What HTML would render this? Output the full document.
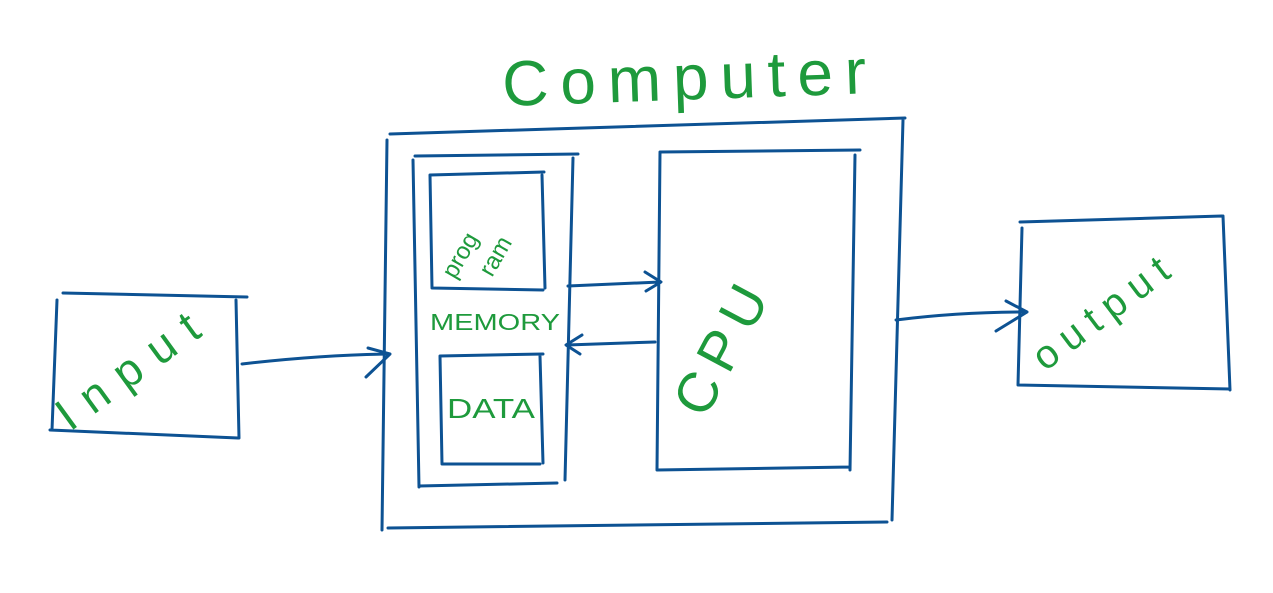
<!DOCTYPE html>
<html><head><meta charset="utf-8"><style>
html,body{margin:0;padding:0;background:#fff;width:1273px;height:593px;overflow:hidden}
svg{display:block}
text{font-family:"Liberation Sans",sans-serif;fill:#1e9a3c}
</style></head><body>
<svg width="1273" height="593" viewBox="0 0 1273 593">
<g fill="none" stroke="#0d5293" stroke-width="3" stroke-linecap="round" stroke-linejoin="round">
<path d="M63 293 L247 297 M57 300 L52 430 M50 430 L238 438 M236 300 L239 438"/>
<path d="M242 364 Q320 355 390 354 M368 348 L390 354 L366 377"/>
<path d="M390 134 L905 118 M387 140 L382 530 M388 528 L887 522 M903 120 L892 520"/>
<path d="M415 156 L578 154 M413 160 L419 487 M419 486 L557 483 M573 158 L565 480"/>
<path d="M430 175 L544 172 M430 175 L432 288 M432 288 L543 290 M542 175 L545 288"/>
<path d="M440 356 L543 354 M440 356 L442 464 M442 464 L540 464 M540 356 L543 463"/>
<path d="M660 152 L860 150 M660 152 L657 470 M657 470 L850 467 M855 155 L850 470"/>
<path d="M568 286 L660 282 M645 272 L661 282 L646 291"/>
<path d="M655 342 L567 345 M582 335 L566 345 L580 354"/>
<path d="M1020 222 L1222 216 M1022 228 L1018 385 M1018 385 L1230 389 M1223 216 L1230 390"/>
<path d="M896 320 Q960 312 1027 312 M1006 301 L1027 312 L996 331"/>
</g>
<text x="503" y="106" font-size="64" font-weight="300" letter-spacing="11" transform="rotate(-2 503 106)" textLength="375" lengthAdjust="spacing">Computer</text>
<text x="430" y="330" font-size="23" textLength="130" lengthAdjust="spacingAndGlyphs">MEMORY</text>
<text x="447" y="418" font-size="28" textLength="88" lengthAdjust="spacingAndGlyphs">DATA</text>
<text x="0" y="0" font-size="24" transform="translate(455 280) rotate(-60)">prog</text>
<text x="0" y="0" font-size="24" transform="translate(492 278) rotate(-60)">ram</text>
<text x="0" y="0" font-size="56" letter-spacing="10" transform="translate(705 420) rotate(-62)">CPU</text>
<text x="0" y="0" font-size="46" transform="translate(70 432) rotate(-36)" textLength="165" lengthAdjust="spacing">Input</text>
<text x="0" y="0" font-size="40" transform="translate(1045 372) rotate(-37)" textLength="160" lengthAdjust="spacing">output</text>
</svg>
</body></html>
